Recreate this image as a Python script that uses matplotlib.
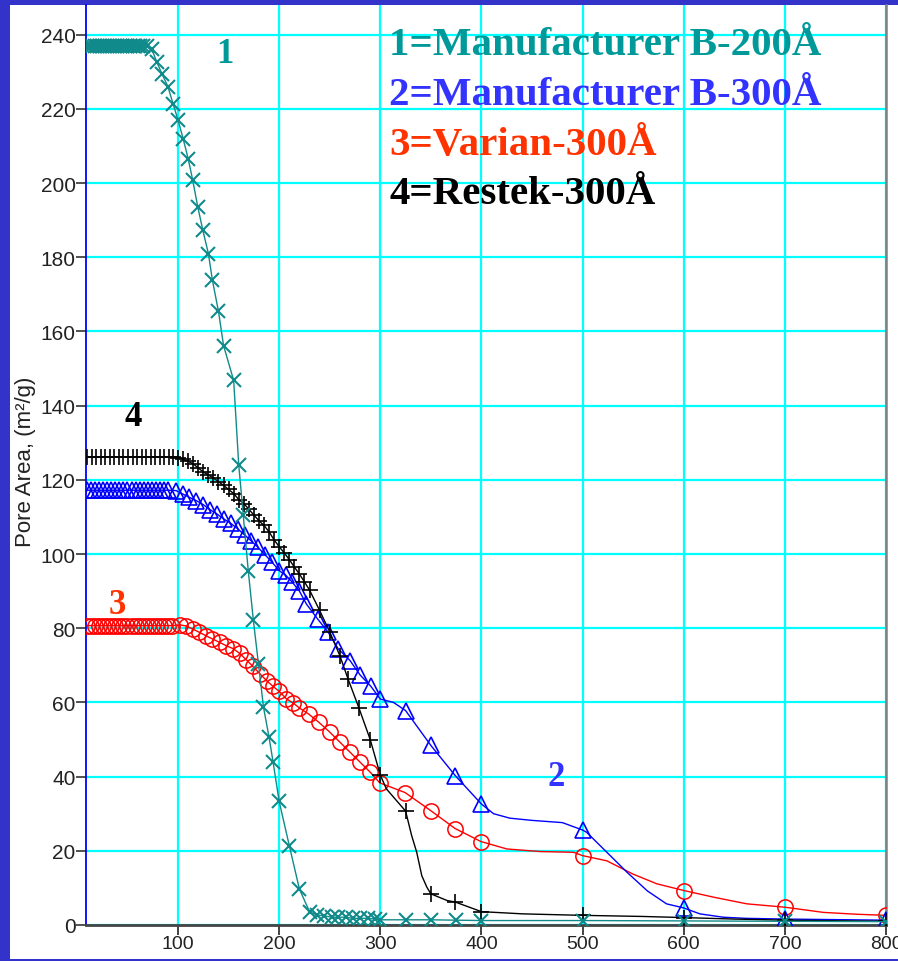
import matplotlib
matplotlib.use("Agg")
import matplotlib.pyplot as plt
from matplotlib.patches import Rectangle
import numpy as np

# ---------------- data ----------------
# Curve 1: Manufacturer B-200A (teal, x markers)
c1_x = [10, 12.5, 15, 17.5, 20, 22.5, 25, 27.5, 30, 32.5, 35, 37.5, 40, 42.5, 45, 47.5,
        50, 52.5, 55, 57.5, 60, 62.5, 65,
        69, 74, 79, 84, 90, 95, 100, 105, 110, 114.5, 119.5, 124.5, 130, 134, 140, 145,
        155, 160, 164.5, 169.5, 174.5, 179.5, 184.5, 190, 194, 200, 210, 220, 230, 237,
        244, 252, 258.5, 266, 273, 280, 288, 295, 300, 325, 350, 375, 400, 500, 600, 700, 800]
c1_y = [237, 237, 237, 237, 237, 237, 237, 237, 237, 237, 237, 237, 237, 237, 237, 237,
        237, 237, 237, 237, 237, 237, 237,
        236.9, 236.2, 232.6, 229.5, 226, 221.4, 217, 212, 206.6, 200.8, 193.6, 187.3, 181,
        173.8, 165.4, 156.2, 146.8, 124.1, 110.4, 95.3, 82.1, 70.4, 58.7, 50.6, 43.9, 33.3,
        21.4, 9.7, 3.6, 2.7, 2.5, 2.1, 2.1, 2.1, 1.8, 1.8, 1.8, 1.6, 1.4, 1.4, 1.4, 1.3,
        1.2, 1.2, 1.1, 1.0, 0.9]

# Curve 2: Manufacturer B-300A (blue, triangles)
c2_x = [10, 14, 18, 22, 26, 30, 34, 38, 42, 46, 50, 54, 58, 62, 66, 70, 74, 78, 82, 86, 90,
        98, 104.5, 111, 118, 125, 131.5, 138.5, 145, 152, 159, 166, 172.5, 179, 186, 193,
        200, 206.5, 213, 220, 227, 238, 248.5, 258.5, 270, 280, 290.5, 300, 325, 350, 374,
        400, 500, 600, 700, 800]
c2_y = [117.2, 117.2, 117.2, 117.2, 117.2, 117.2, 117.2, 117.2, 117.2, 117.2, 117.2, 117.2,
        117.2, 117.2, 117.2, 117.2, 117.2, 117.2, 117.2, 117.2, 117.2,
        117.1, 116.2, 115.3, 114.4, 113.3, 112, 110.8, 109.5, 108.3, 106.8, 105.1, 103.5,
        101.8, 99.8, 97.8, 95.5, 94.3, 92.4, 90, 86.5, 82.5, 78.9, 74.4, 71.3, 67.4, 64.4,
        60.9, 57.8, 48.4, 40.3, 32.6, 25.6, 4.6, 1.6, 1.3]
# extra vertices of the blue line between markers
c2_line_x = [313, 412, 428, 450, 480, 504, 524, 544, 564, 583, 616, 639, 661]
c2_line_y = [60.0, 30.0, 28.8, 28.2, 27.6, 25.0, 19.6, 14.2, 9.2, 5.7, 3.0, 2.1, 1.8]

# Curve 3: Varian-300A (red, circles)
c3_x = [10, 14, 18, 22, 26, 30, 34, 38, 42, 46, 50, 54, 58, 62, 66, 70, 74, 78, 82, 86, 90, 94,
        102, 108, 114.5, 121, 127.5, 134, 141, 147.5, 154.5, 161, 167.5, 174, 181, 187.5,
        194, 200, 207, 214, 220, 229, 239, 250, 260, 270, 280, 290, 299.5, 324.5, 350, 374,
        399.5, 500, 600, 700, 800]
c3_y = [80.7, 80.7, 80.7, 80.7, 80.7, 80.7, 80.7, 80.7, 80.7, 80.7, 80.7, 80.7, 80.7, 80.7,
        80.7, 80.7, 80.7, 80.7, 80.7, 80.7, 80.7, 80.7,
        80.9, 80.6, 79.8, 78.9, 78.0, 77.1, 76.2, 75.3, 74.5, 73.2, 71.5, 69.7, 67.7, 65.9,
        64.3, 63.0, 61.0, 59.8, 58.5, 56.9, 54.7, 52.0, 49.3, 46.6, 43.9, 41.2, 38.3, 35.7,
        30.8, 26.0, 22.5, 18.7, 9.3, 4.8, 2.6]
c3_line_x = [425, 458, 491, 524, 550, 573.5, 629.5, 662.5, 738, 771]
c3_line_y = [20.5, 19.8, 19.6, 17.3, 13.7, 11.1, 7.5, 5.7, 3.4, 2.9]

# Curve 4: Restek-300A (black, plus)
c4_x = [10, 14.5, 19, 23.5, 28, 32.5, 37, 41.5, 46, 50.5, 55, 59.5, 64, 68.5, 73, 77.5, 82,
        86.5, 91, 95.5,
        100, 105, 110, 115, 120, 125, 130, 135, 140, 145, 150, 155, 160, 165, 170, 175, 180,
        185, 190, 195, 200, 205, 210, 215, 220, 225, 230, 240, 250, 260, 268, 279, 290, 300,
        325, 350, 374, 400, 500, 600, 700, 800]
c4_y = [126.1, 126.1, 126.1, 126.1, 126.1, 126.1, 126.1, 126.1, 126.1, 126.1, 126.1, 126.1,
        126.1, 126.1, 126.1, 126.1, 126.1, 126.1, 126.1, 126.1,
        126.0, 125.5, 125.0, 124.3, 123.2, 122.1, 121.3, 120.5, 119.5, 118.5, 117.4, 116.3,
        114.7, 113.6, 112.1, 110.5, 109.0, 107.7, 106.0, 103.8, 102.0, 100.3, 98.5, 96.5,
        94.6, 92.5, 90.3, 84.8, 79.0, 72.6, 66.4, 58.4, 50.0, 40.4, 30.7, 8.4, 6.2, 3.6,
        2.6, 2.0, 1.3, 1.0]
c4_line_x = [306, 331, 336, 341, 346, 366, 441, 560, 650]
c4_line_y = [36.7, 24.1, 19.6, 13.3, 10.2, 6.6, 3.0, 2.3, 1.6]

labels = ["1=Manufacturer B-200Å", "2=Manufacturer B-300Å", "3=Varian-300Å", "4=Restek-300Å"]
label_colors = ["#009999", "#3333ff", "#ff3300", "#000000"]
x_ticks = [100, 200, 300, 400, 500, 600, 700, 800]
y_ticks = [0, 20, 40, 60, 80, 100, 120, 140, 160, 180, 200, 220, 240]

# ---------------- figure ----------------
W, H = 898, 962
fig = plt.figure(figsize=(W / 100, H / 100), dpi=100, facecolor="#3333cc")
bg = Rectangle((10 / W, 2 / H), 1.0, 954 / H, transform=fig.transFigure,
               facecolor="white", edgecolor="none", zorder=-10)
fig.add_artist(bg)

ax = fig.add_axes([86 / W, 36 / H, 800 / W, 920 / H])
ax.set_zorder(1)
ax.set_facecolor("white")
ax.set_xlim(9, 800)
ax.set_ylim(0, 248)
ax.set_xticks(x_ticks)
ax.set_yticks(y_ticks)
ax.grid(True, color="#00ffff", linewidth=1.6)
ax.set_axisbelow(True)

ax.spines["top"].set_visible(False)
ax.spines["left"].set_color("#0000ff")
ax.spines["left"].set_linewidth(1.3)
ax.spines["bottom"].set_color("#444444")
ax.spines["bottom"].set_linewidth(2.0)
ax.spines["right"].set_color("#808080")
ax.spines["right"].set_linewidth(1.8)

tick_family = ["Liberation Sans", "DejaVu Sans"]
ax.tick_params(axis="y", direction="out", length=7, width=1.2, color="#333333", pad=0.5,
               labelcolor="#222222")
ax.tick_params(axis="x", direction="out", length=7, width=1.2, color="#222222", pad=0.5,
               labelcolor="#222222")
for lab in ax.get_xticklabels() + ax.get_yticklabels():
    lab.set_fontfamily(tick_family)
    lab.set_fontsize(15)
for lab in ax.get_xticklabels():
    lab.set_fontsize(14)

ax.set_ylabel("Pore Area, (m²/g)", fontsize=16, family=["Liberation Sans", "DejaVu Sans"],
              color="#222222")
ax.yaxis.set_label_coords(-0.062, 0.505)


def draw(mx, my, lx, ly, color, marker, ms, mew, z):
    xs = np.array(list(mx) + list(lx), dtype=float)
    ys = np.array(list(my) + list(ly), dtype=float)
    order = np.argsort(xs, kind="stable")
    ax.plot(xs[order], ys[order], color=color, lw=1.0, zorder=z)
    ax.plot(mx, my, linestyle="none", marker=marker, ms=ms, mew=mew, mfc="none",
            mec=color, zorder=z)


draw(c3_x, c3_y, c3_line_x, c3_line_y, "#ff0000", "o", 11, 1.1, 3)
draw(c2_x, c2_y, c2_line_x, c2_line_y, "#0000ff", "^", 12, 1.2, 4)
draw(c4_x, c4_y, c4_line_x, c4_line_y, "#000000", "+", 12, 1.2, 5)
draw(c1_x, c1_y, [], [], "#108a8a", "x", 10, 1.5, 6)

serif = ["Liberation Serif", "DejaVu Serif"]
num_fs = 25
ax.text(146.4, 234.9, "1", color="#009999", fontsize=num_fs, fontweight="bold", family=serif,
        ha="center", va="center", zorder=8)
ax.text(55.4, 137.0, "4", color="#000000", fontsize=num_fs, fontweight="bold", family=serif,
        ha="center", va="center", zorder=8)
ax.text(39.6, 86.3, "3", color="#ff3300", fontsize=num_fs, fontweight="bold", family=serif,
        ha="center", va="center", zorder=8)
ax.text(473.8, 39.9, "2", color="#3333ff", fontsize=num_fs, fontweight="bold", family=serif,
        ha="center", va="center", zorder=8)

leg_y = [234.9, 221.4, 207.9, 194.7]
for t, c, yy in zip(labels, label_colors, leg_y):
    ax.text(308.6, yy, t, color=c, fontsize=29.5, fontweight="bold", family=serif,
            ha="left", va="baseline", zorder=8)

fig.savefig("out.png", dpi=100, facecolor=fig.get_facecolor())
